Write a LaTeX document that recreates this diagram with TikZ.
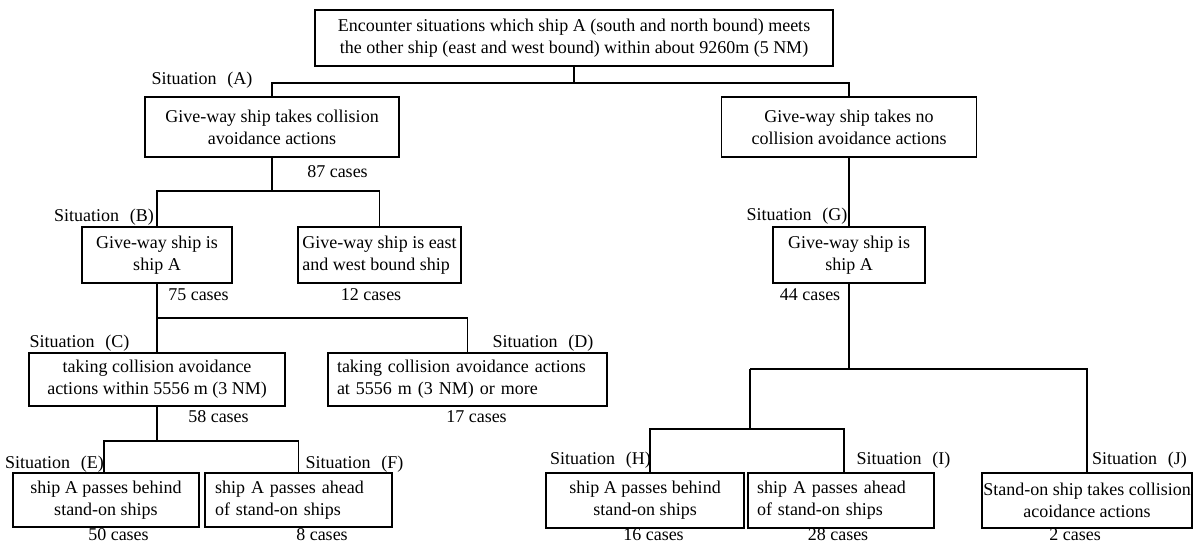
\documentclass[tikz,border=0pt]{standalone}
\usepackage{fontspec}
\setmainfont{Liberation Serif}
\newcommand\myfs{\fontsize{18}{22}\selectfont}
\newcommand\sit[1]{Situation\hspace{0.6em}(#1)}
\begin{document}
\begin{tikzpicture}[x=1pt,y=-1pt,
  box/.style={draw, line width=1.2pt, inner xsep=0pt, inner ysep=0pt, font=\myfs, align=center},
  lbox/.style={draw, line width=1.2pt, inner ysep=0pt, font=\myfs, align=left},
  lbl/.style={inner sep=0pt, font=\myfs},
  conn/.style={line width=1.2pt},
  thickconn/.style={line width=2pt}]
\useasboundingbox (0,0) rectangle (1194,544);

% boxes
\node[box, minimum width=518pt, minimum height=56pt] (root) at (574,38)
  {Encounter situations which ship A (south and north bound) meets\\the other ship (east and west bound) within about 9260m (5 NM)};
\node[box, minimum width=254pt, minimum height=60pt] (a1) at (272,127)
  {Give-way ship takes collision\\avoidance actions};
\node[box, minimum width=255pt, minimum height=60pt] (r1) at (849,127)
  {Give-way ship takes no\\collision avoidance actions};
\node[box, minimum width=150pt, minimum height=56pt] (b) at (157,255)
  {Give-way ship is\\ship A};
\node[box, align=left, minimum width=163pt, minimum height=56pt] (b2) at (379.5,255)
  {Give-way ship is east\\and west bound ship};
\node[box, minimum width=152pt, minimum height=56pt] (g) at (849,255)
  {Give-way ship is\\ship A};
\node[box, minimum width=256pt, minimum height=53pt] (c) at (157,379.5)
  {taking collision avoidance\\actions within 5556 m (3 NM)};
\node[lbox, inner xsep=9pt, text width=261pt, minimum height=53pt] (d) at (467.5,379.5)
  {taking collision avoidance actions\\at 5556 m (3 NM) or more};
\node[box, minimum width=186pt, minimum height=54pt] (e) at (106,500)
  {ship A passes behind\\stand-on ships};
\node[lbox, inner xsep=10pt, text width=167pt, minimum height=54pt] (f) at (298.5,500)
  {ship A passes ahead\\of stand-on ships};
\node[box, minimum width=198pt, minimum height=55pt] (h) at (645,500.5)
  {ship A passes behind\\stand-on ships};
\node[lbox, inner xsep=9pt, text width=168pt, minimum height=55pt] (i) at (841,500.5)
  {ship A passes ahead\\of stand-on ships};
\node[box, minimum width=210pt, minimum height=55pt] (j) at (1087,500.5)
  {Stand-on ship takes collision\\acoidance actions};

% junction levels
\coordinate (yA) at (0,83);
\coordinate (yB) at (0,191);
\coordinate (yC) at (0,318);
\coordinate (yE) at (0,441);
\coordinate (yG) at (0,369);
\coordinate (gl) at (750,369);
\coordinate (hv) at (650,429);
\coordinate (iv) at (844,429);
\coordinate (gv) at (750,429);

% connectors
\draw[conn] (root.south) -- (root.south |- yA);
\draw[conn] (a1.north) |- (r1.north |- yA) -- (r1.north);
\draw[conn] (a1.south) -- (a1.south |- yB);
\draw[conn] (b.north) |- (b2.north |- yB) -- (b2.north);
\draw[conn] (b.south) -- (b.south |- yC);
\draw[conn] (c.north) |- (d.north |- yC) -- (d.north);
\draw[conn] (c.south) -- (c.south |- yE);
\draw[conn] ([xshift=-2pt]e.north) |- (f.north |- yE) -- (f.north);
\draw[conn] (r1.south) -- (g.north);
\draw[thickconn] (g.south) -- (g.south |- yG);
\draw[conn] (gl) -- (j.north |- yG) -- (j.north);
\draw[conn] (gl) -- (gv);
\draw[conn] (hv |- h.north) -- (hv) -- (iv) -- (iv |- i.north);

% labels
\node[lbl] (sA) at (202,80) {\sit{A}};
\node[lbl] (n87) at (337.5,172) {87 cases};
\node[lbl] (sB) at (104,217) {\sit{B}};
\node[lbl] (n75) at (198.5,295) {75 cases};
\node[lbl] (n12) at (371,295) {12 cases};
\node[lbl] (sC) at (79.5,343) {\sit{C}};
\node[lbl] (sD) at (543,343) {\sit{D}};
\node[lbl] (n58) at (218.5,417) {58 cases};
\node[lbl] (n17) at (476.5,417) {17 cases};
\node[lbl] (sE) at (54.5,464) {\sit{E}};
\node[lbl] (sF) at (354.5,464) {\sit{F}};
\node[lbl] (n50) at (118.5,535) {50 cases};
\node[lbl] (n8) at (322,535) {8 cases};
\node[lbl] (sG) at (797,216) {\sit{G}};
\node[lbl] (n44) at (810,295) {44 cases};
\node[lbl] (sH) at (600.5,460) {\sit{H}};
\node[lbl] (sI) at (903.5,460) {\sit{I}};
\node[lbl] (sJ) at (1139.5,460) {\sit{J}};
\node[lbl] (n16) at (653.5,535) {16 cases};
\node[lbl] (n28) at (838,535) {28 cases};
\node[lbl] (n2) at (1075,535) {2 cases};
\end{tikzpicture}
\end{document}
